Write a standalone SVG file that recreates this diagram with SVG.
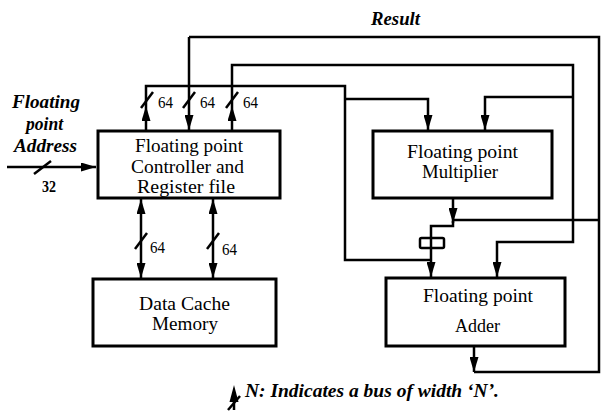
<svg xmlns="http://www.w3.org/2000/svg" width="601" height="418" viewBox="0 0 601 418">
<style>
.box{fill:#fff;stroke:#000;stroke-width:3}
.ln{fill:none;stroke:#000;stroke-width:2.5}
.sl{stroke:#000;stroke-width:2.5}
.t{font-family:"Liberation Serif","Times New Roman",serif;font-size:19px;fill:#000}
.bi{font-family:"Liberation Serif","Times New Roman",serif;font-size:18px;font-weight:bold;font-style:italic;fill:#000}
.n{font-family:"Liberation Serif","Times New Roman",serif;font-size:16px;fill:#000}
</style>
<defs>
<marker id="ah" viewBox="0 0 15 9" refX="15" refY="4.5" markerWidth="15" markerHeight="9" markerUnits="userSpaceOnUse" orient="auto-start-reverse">
<path d="M0,0 L15,4.5 L0,9 Z" fill="#000"/>
</marker>
</defs>
<rect width="601" height="418" fill="#fff"/>
<text class="bi" x="371" y="25" textLength="49" lengthAdjust="spacingAndGlyphs">Result</text>
<g id="input-label">
<text class="bi" x="12" y="108" textLength="68" lengthAdjust="spacingAndGlyphs">Floating</text>
<text class="bi" x="26" y="130" textLength="37" lengthAdjust="spacingAndGlyphs">point</text>
<text class="bi" x="14" y="152" textLength="63" lengthAdjust="spacingAndGlyphs">Address</text>
</g>
<g id="connectors">
<path class="ln" d="M7,167 H96" marker-end="url(#ah)"/>
<line class="sl" x1="34" y1="174" x2="51" y2="161"/>
<text class="n" x="42" y="192" font-weight="bold" textLength="14" lengthAdjust="spacingAndGlyphs">32</text>
<path class="ln" d="M189,37 V130" marker-end="url(#ah)"/>
<path class="ln" d="M189,37 H599 V372 H474"/>
<path class="ln" d="M474,347 V372" marker-end="url(#ah)"/>
<path class="ln" d="M453,198 V223" marker-end="url(#ah)"/>
<path class="ln" d="M453,220 H599"/>
<path class="ln" d="M453,221 V226 H431 V238"/>
<path class="ln" d="M431,248 V277" marker-end="url(#ah)"/>
<path class="ln" d="M146,130 V106" marker-end="url(#ah)"/>
<path class="ln" d="M146,106 V86 H345 V260 H431"/>
<path class="ln" d="M345,99 H428 V130" marker-end="url(#ah)"/>
<path class="ln" d="M232,130 V106" marker-end="url(#ah)"/>
<path class="ln" d="M232,106 V65 H573 V242 H497 V277" marker-end="url(#ah)"/>
<path class="ln" d="M573,97 H485 V130" marker-end="url(#ah)"/>
<path class="ln" d="M141,199 V278" marker-start="url(#ah)" marker-end="url(#ah)"/>
<path class="ln" d="M213,199 V278" marker-start="url(#ah)" marker-end="url(#ah)"/>
<line class="sl" x1="141" y1="108" x2="153" y2="92"/>
<line class="sl" x1="183" y1="108" x2="195" y2="92"/>
<line class="sl" x1="226" y1="108" x2="238" y2="92"/>
<line class="sl" x1="135" y1="249" x2="147" y2="233"/>
<line class="sl" x1="207" y1="249" x2="219" y2="233"/>
<text class="n" x="158" y="108" textLength="15" lengthAdjust="spacingAndGlyphs">64</text>
<text class="n" x="200" y="108" textLength="15" lengthAdjust="spacingAndGlyphs">64</text>
<text class="n" x="243" y="108" textLength="15" lengthAdjust="spacingAndGlyphs">64</text>
<text class="n" x="150" y="253" textLength="15" lengthAdjust="spacingAndGlyphs">64</text>
<text class="n" x="222" y="255" textLength="15" lengthAdjust="spacingAndGlyphs">64</text>
<rect x="420" y="238" width="24" height="10" rx="1.5" fill="#fff" stroke="#000" stroke-width="2.5"/>
<line class="sl" x1="431" y1="238" x2="431" y2="248"/>
</g>
<g id="controller">
<rect class="box" x="98" y="131" width="182" height="67"/>
<text class="t" x="135" y="152" textLength="108" lengthAdjust="spacingAndGlyphs">Floating point</text>
<text class="t" x="131" y="173" textLength="113" lengthAdjust="spacingAndGlyphs">Controller and</text>
<text class="t" x="137" y="193" textLength="98" lengthAdjust="spacingAndGlyphs">Register file</text>
</g>
<g id="multiplier">
<rect class="box" x="373" y="131" width="179" height="67"/>
<text class="t" x="407" y="158" textLength="111" lengthAdjust="spacingAndGlyphs">Floating point</text>
<text class="t" x="422" y="178" textLength="76" lengthAdjust="spacingAndGlyphs">Multiplier</text>
</g>
<g id="cache">
<rect class="box" x="93" y="279" width="183" height="67"/>
<text class="t" x="139" y="310" textLength="91" lengthAdjust="spacingAndGlyphs">Data Cache</text>
<text class="t" x="152" y="330" textLength="66" lengthAdjust="spacingAndGlyphs">Memory</text>
</g>
<g id="adder">
<rect class="box" x="386" y="278" width="179" height="68"/>
<text class="t" x="423" y="302" textLength="110" lengthAdjust="spacingAndGlyphs">Floating point</text>
<text class="t" x="455" y="332" textLength="45" lengthAdjust="spacingAndGlyphs">Adder</text>
</g>
<g id="legend">
<line class="sl" x1="234" y1="398" x2="234" y2="410"/>
<path d="M229.5,402 L234,385 L238.5,402 Z" fill="#000"/>
<line class="sl" x1="228" y1="410" x2="240" y2="396"/>
<text class="bi" x="245" y="397" font-size="16" textLength="254" lengthAdjust="spacingAndGlyphs">N: Indicates  a bus of width ‘N’.</text>
</g>
</svg>
